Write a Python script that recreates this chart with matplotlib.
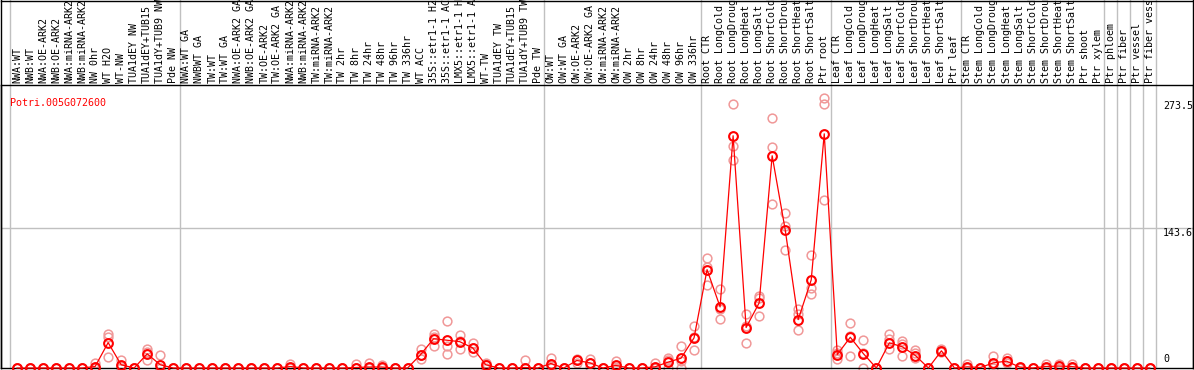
import matplotlib
matplotlib.use("Agg")
import matplotlib.pyplot as plt
from matplotlib.lines import Line2D

# sample labels (column order, left to right)
labels = ["NWA:WT", "NWB:WT", "NWA:OE-ARK2", "NWB:OE-ARK2", "NWA:miRNA-ARK2", "NWB:miRNA-ARK2",
          "NW 0hr", "WT H2O", "WT-NW", "TUA1dEY NW", "TUA1dEY+TUB15", "TUA1dY+TUB9 NW", "Pde NW",
          "NWA:WT GA", "NWBWT GA", "TW:WT", "TW:WT GA", "NWA:OE-ARK2 GA", "NWB:OE-ARK2 GA",
          "TW:OE-ARK2", "TW:OE-ARK2 GA", "NWA:miRNA-ARK2", "NWB:miRNA-ARK2", "TW:miRNA-ARK2",
          "TW:miRNA-ARK2", "TW 2hr", "TW 8hr", "TW 24hr", "TW 48hr", "TW 96hr", "TW 336hr",
          "WT ACC", "35S::etr1-1 H2O", "35S::etr1-1 ACC", "LMX5::etr1-1 H2O", "LMX5::etr1-1 ACC",
          "WT-TW", "TUA1dEY TW", "TUA1dEY+TUB15", "TUA1dY+TUB9 TW", "Pde TW",
          "OW:WT", "OW:WT GA", "OW:OE-ARK2", "OW:OE-ARK2 GA", "OW:miRNA-ARK2", "OW:miRNA-ARK2",
          "OW 2hr", "OW 8hr", "OW 24hr", "OW 48hr", "OW 96hr", "OW 336hr",
          "Root CTR", "Root LongCold", "Root LongDrought", "Root LongHeat", "Root LongSalt",
          "Root ShortCold", "Root ShortDrought", "Root ShortHeat", "Root ShortSalt", "Ptr root",
          "Leaf CTR", "Leaf LongCold", "Leaf LongDrought", "Leaf LongHeat", "Leaf LongSalt",
          "Leaf ShortCold", "Leaf ShortDrought", "Leaf ShortHeat", "Leaf ShortSalt", "Ptr leaf",
          "Stem CTR", "Stem LongCold", "Stem LongDrought", "Stem LongHeat", "Stem LongSalt",
          "Stem ShortCold", "Stem ShortDrought", "Stem ShortHeat", "Stem ShortSalt",
          "Ptr shoot", "Ptr xylem", "Ptr phloem", "Ptr fiber", "Ptr vessel", "Ptr fiber vessel"]

# mean expression per column
means = [0, 0, 0, 0, 0, 0, 1.5, 26, 3.3, 0, 14.5, 3.3, 0,
         0, 0, 0, 0, 0, 0, 0, 0, 1.5, 0, 0, 0, 0, 0.5, 1, 1, 0, 0,
         13.8, 30, 28.5, 27, 20.6, 3.3, 0, 0, 0.5, 0,
         4.6, 0, 7.7, 5.3, 0, 2.6, 0, 0, 1.2, 6, 10, 30.9,
         100.8, 62.6, 238, 41.5, 66.7, 217.5, 141.8, 49.6, 90.3, 240,
         13.8, 31.5, 14.8, 0, 25.8, 21.7, 12.8, 0, 17.6, 0,
         1.2, 0.5, 5.3, 7, 1, 0, 1.5, 2, 1.5, 0,
         0, 0, 0, 0, 0]

# replicate values (only non-zero columns listed, others are all zero)
reps = {6: [5, 0, 0], 7: [35, 32, 11.5], 8: [7.7, 2, 0], 10: [19, 16.6, 7.7], 11: [13, 0, 0],
        21: [4, 0.5, 0], 26: [4.5, 0, 0], 27: [5, 0, 0], 28: [3, 0, 0],
        31: [19, 13, 9.4], 32: [35, 32, 23], 33: [48, 23, 14.8], 34: [33.6, 28, 19.6],
        35: [26, 20, 16.5], 36: [5.3, 4, 0.5], 39: [8.7, 0, 0], 41: [10.4, 3, 0.5],
        43: [9.7, 8, 5], 44: [9.7, 5, 1], 46: [7, 1, 0], 49: [5.3, 0, 0], 50: [10.4, 8.5, 0],
        51: [23, 7, 0], 52: [42.8, 32, 18], 53: [112.8, 104, 85.5], 54: [81, 60, 50],
        55: [271, 227.7, 212.7], 56: [55.5, 42.8, 25.8], 57: [74, 72, 53],
        58: [256, 226.7, 167.6], 59: [158.8, 146, 121], 60: [60, 55, 39.4],
        61: [115.5, 82, 76], 62: [276.6, 270.7, 172.5], 63: [18.2, 15, 9.4],
        64: [46, 33, 12.8], 65: [29, 15, 0], 67: [35.3, 30, 19.6], 68: [27.4, 25, 12.8],
        69: [18.2, 15, 10], 71: [19.6, 17, 16], 73: [3.6, 0, 0], 75: [12, 4, 0],
        76: [10, 7, 5], 79: [4.3, 0, 0], 80: [4, 2, 0], 81: [4, 1, 0]}

# group separators (after these column indices)
separators = [-1, 12, 40, 52, 62, 72, 83, 84, 85, 86, 87]
ytick_vals = [273.5, 143.6]
gene = "Potri.005G072600"

W, H = 1194, 370
fig = plt.figure(figsize=(W / 100, H / 100), dpi=100)
ax = fig.add_axes([0.5 / W, 2 / H, 1192.5 / W, 283 / H])

x0, dx = 17, 13.02
ax.set_xlim((0.5 - x0) / dx, (1193 - x0) / dx)
ax.set_ylim(0, 290)

mono = "DejaVu Sans Mono"
grey = "#c0c0c0"

# separators run through the header too
for s in separators:
    ax.plot([s + 0.5, s + 0.5], [0, 1.30], color=grey, lw=1.0,
            transform=ax.get_xaxis_transform(), clip_on=False, zorder=1)
ax.axhline(143.6, color=grey, lw=1.0, zorder=1)

# replicates
for i in range(len(labels)):
    vals = reps.get(i, [0, 0, 0])
    ax.plot([i] * len(vals), vals, "o", ms=6.3, mfc="none", mec="#f09898", mew=1.1,
            clip_on=False, zorder=2)

xs = list(range(len(labels)))
ax.plot(xs, means, "-", color="red", lw=0.9, zorder=3, clip_on=False)
ax.plot(xs, means, "o", ms=6.3, mfc="none", mec="red", mew=1.5, zorder=4, clip_on=False)

# sample labels above the plot
for i, lab in enumerate(labels):
    ax.text(i, 1.0 + 2 / 283, lab, rotation=90, ha="center", va="bottom",
            fontsize=7.2, family=mono, transform=ax.get_xaxis_transform(), clip_on=False)

for v in ytick_vals:
    ax.text((1163 - x0) / dx, v, f"{v}", ha="left", va="top", fontsize=7.2, family=mono)
ax.text((1163 - x0) / dx, 4, "0", ha="left", va="bottom", fontsize=7.2, family=mono)

ax.text((10 - x0) / dx, 272, gene, color="red", ha="left", va="center",
        fontsize=7.2, family=mono)

ax.set_xticks([])
ax.set_yticks([])
for sp in ax.spines.values():
    sp.set_color("black")
    sp.set_linewidth(1.0)

# outer frame of header area
fig.add_artist(Line2D([0.5 / W, 1193 / W], [1 - 0.5 / H, 1 - 0.5 / H], color="black", lw=1.0))
fig.add_artist(Line2D([1193 / W, 1193 / W], [2 / H, 1], color="black", lw=1.0))
fig.add_artist(Line2D([0.5 / W, 0.5 / W], [2 / H, 1], color="black", lw=1.0))

fig.savefig("out.png", dpi=100, facecolor="white")
